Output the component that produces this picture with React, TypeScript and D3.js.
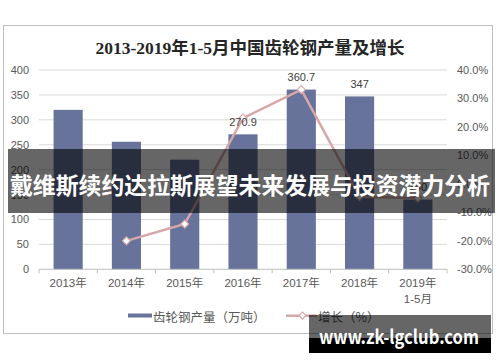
import React from "react";
import * as d3 from "d3";

const categories = ["2013年", "2014年", "2015年", "2016年", "2017年", "2018年", "2019年\n1-5月"];
const production = [320, 256, 220, 270.9, 360.7, 347, 140];
const productionLabels = ["", "", "", "270.9", "360.7", "347", "140"];
const growth: (number | null)[] = [null, -20.0, -14.1, 23.1, 33.1, -4.5, -5.0];
const leftTicks = [0, 50, 100, 150, 200, 250, 300, 350, 400];
const rightTicks = [-30, -20, -10, 0, 10, 20, 30, 40];

const title = "2013-2019年1-5月中国齿轮钢产量及增长";
const legendBar = "齿轮钢产量（万吨）";
const legendLine = "增长（%）";
const bannerText = "戴维斯续约达拉斯展望未来发展与投资潜力分析";
const siteText = "www.zk-lgclub.com";

const W = 500, H = 362;
const plotL = 39, plotR = 447, plotT = 70, plotB = 269.3;
const barColor = "#67739b";
const lineColor = "#d6a7a8";
const textColor = "#595959";
const sans = "'Liberation Sans', Arial, 'Noto Sans CJK SC', sans-serif";
const cjk = "'Noto Sans CJK SC', 'Liberation Sans', sans-serif";

export default function App() {
  const x = d3.scaleBand<number>().domain(d3.range(categories.length)).range([plotL, plotR]).paddingInner(0.5).paddingOuter(0.25);
  const step = x.step();
  const yL = d3.scaleLinear().domain([0, 400]).range([plotB, plotT]);
  const yR = d3.scaleLinear().domain([-30, 40]).range([plotB, plotT]);
  const cx = (i: number) => (x(i) as number) + x.bandwidth() / 2;

  const pts = growth.map((g, i) => (g === null ? null : [cx(i), yR(g)] as [number, number])).filter(Boolean) as [number, number][];
  const line = d3.line<[number, number]>().x(d => d[0]).y(d => d[1]);
  const diamond = (px: number, py: number, r = 4) => `M${px},${py - r}L${px + r},${py}L${px},${py + r}L${px - r},${py}Z`;

  return (
    <svg width={W} height={H} style={{ position: "absolute", left: 0, top: 0, background: "#fff" }}>
      <rect x={3.5} y={25.5} width={489} height={308} fill="#fff" stroke="#bfbfbf" />
      <text x={250} y={48} textAnchor="middle" dominantBaseline="central" fontFamily="'Liberation Serif', 'Noto Sans CJK SC', serif" fontWeight="bold" fontSize={17.5} fill="#262626">{title}</text>

      {leftTicks.map(t => (
        <g key={"g" + t}>
          {t > 0 && <line x1={plotL} x2={plotR} y1={yL(t)} y2={yL(t)} stroke="#d9d9d9" />}
          <text x={29} y={yL(t)} textAnchor="end" dominantBaseline="central" fontFamily={sans} fontSize={11} fill={textColor}>{t}</text>
        </g>
      ))}
      {rightTicks.map(t => (
        <text key={"r" + t} x={457} y={yR(t)} textAnchor="start" dominantBaseline="central" fontFamily={sans} fontSize={11} fill={textColor}>{t.toFixed(1) + "%"}</text>
      ))}

      {production.map((v, i) => (
        <rect key={"b" + i} x={x(i)} y={yL(v)} width={x.bandwidth()} height={plotB - yL(v)} fill={barColor} />
      ))}

      <line x1={plotL} x2={plotR} y1={plotB} y2={plotB} stroke="#bfbfbf" />
      {d3.range(categories.length + 1).map(i => (
        <line key={"t" + i} x1={plotL + i * step} x2={plotL + i * step} y1={plotB} y2={plotB + 4} stroke="#bfbfbf" />
      ))}

      {categories.map((c, i) => (
        <text key={"c" + i} x={cx(i)} y={283} textAnchor="middle" fontFamily={sans} fontSize={11.5} fill={textColor}>
          {c.split("\n").map((s, k) => (
            <tspan key={k} x={cx(i)} y={283 + k * 16} dominantBaseline="central">{s}</tspan>
          ))}
        </text>
      ))}

      <path d={line(pts) || ""} fill="none" stroke={lineColor} strokeWidth={2.5} />
      {pts.map((p, i) => (
        <path key={"m" + i} d={diamond(p[0], p[1])} fill="#fff" stroke={lineColor} strokeWidth={1.2} />
      ))}

      {production.map((v, i) => productionLabels[i] ? (
        <text key={"l" + i} x={cx(i)} y={yL(v) - 12.5} textAnchor="middle" dominantBaseline="central" fontFamily={sans} fontSize={11} fill="#404040">{productionLabels[i]}</text>
      ) : null)}

      {/* legend */}
      <rect x={128} y={313.5} width={24} height={4} fill={barColor} />
      <text x={153} y={316} dominantBaseline="central" fontFamily={cjk} fontSize={12.5} fill={textColor}>{legendBar}</text>
      <line x1={286} x2={317} y1={315.7} y2={315.7} stroke={lineColor} strokeWidth={2.5} />
      <path d={diamond(302.5, 315.7, 3.5)} fill="#fff" stroke={lineColor} strokeWidth={1.2} />
      <text x={318} y={316} dominantBaseline="central" fontFamily={cjk} fontSize={12.5} fill={textColor}>{legendLine}</text>

      {/* overlays */}
      <rect x={8} y={149} width={487} height={64} fill="rgba(0,0,0,0.6)" />
      <text x={250} y={184} textAnchor="middle" dominantBaseline="central" fontFamily={cjk} fontWeight="bold" fontSize={23} fill="#fff" textLength={480} lengthAdjust="spacingAndGlyphs">{bannerText}</text>
      <rect x={309} y={315} width={182} height={23} fill="rgba(0,0,0,0.6)" />
      <rect x={309} y={338} width={182} height={15} fill="#000" />
      <text x={399} y={335} textAnchor="middle" dominantBaseline="central" fontFamily={cjk} fontWeight="bold" fontSize={19} fill="#fff" textLength={160} lengthAdjust="spacingAndGlyphs">{siteText}</text>
    </svg>
  );
}
